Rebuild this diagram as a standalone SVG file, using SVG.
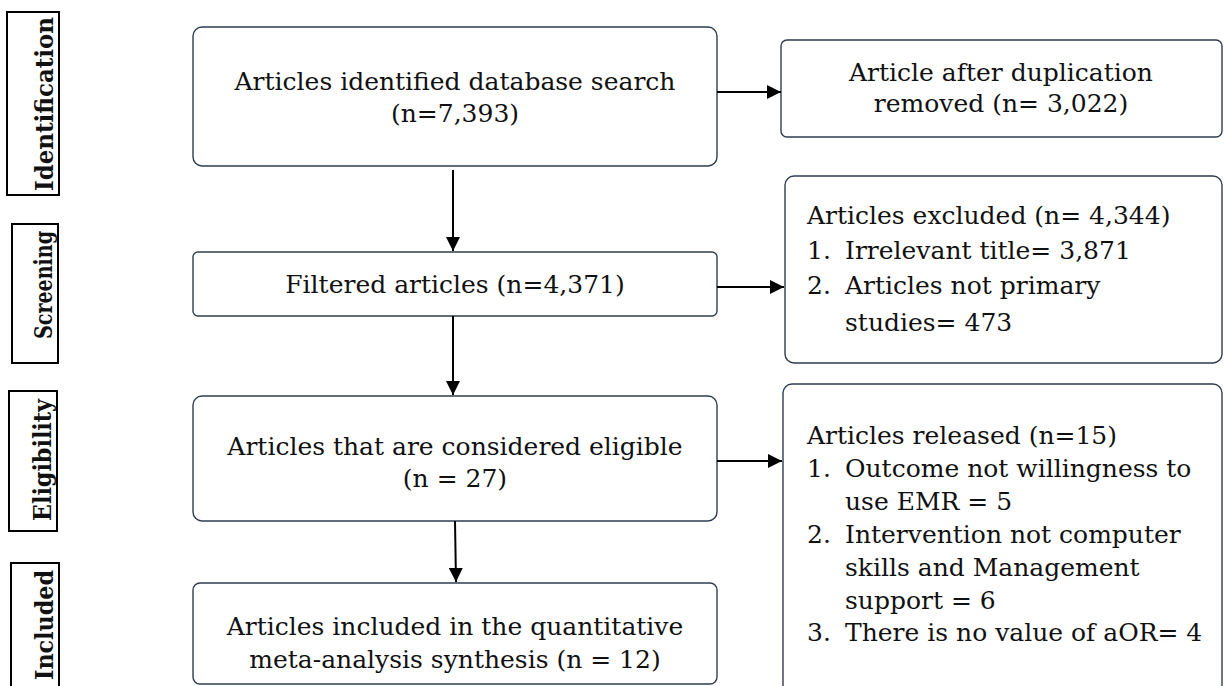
<svg xmlns="http://www.w3.org/2000/svg" width="1224" height="686" viewBox="0 0 1224 686">
<style>
.box{fill:#fff;stroke:#2e3d52;stroke-width:1.4}
.side{fill:#fff;stroke:#000;stroke-width:2}
.t{font-family:"DejaVu Serif","Liberation Serif",serif;font-size:25px;fill:#111}
.c{text-anchor:middle}
.s{font-family:"DejaVu Serif","Liberation Serif",serif;font-size:24px;font-weight:bold;fill:#111;text-anchor:middle}
.ln{stroke:#000;stroke-width:2;fill:none;marker-end:url(#ah)}
</style>
<defs>
<marker id="ah" markerUnits="userSpaceOnUse" markerWidth="14" markerHeight="14" refX="14" refY="7" orient="auto">
<path d="M0,0 L14,7 L0,14 Z" fill="#000"/>
</marker>
</defs>
<rect width="1224" height="686" fill="#fff"/>
<g id="side-identification"><rect class="side" x="7" y="12" width="52" height="183"/><text class="s" transform="translate(53,104) rotate(-90)" textLength="174" lengthAdjust="spacingAndGlyphs">Identification</text></g>
<g id="side-screening"><rect class="side" x="12" y="224" width="46" height="139"/><text class="s" transform="translate(52,285) rotate(-90)" textLength="108" lengthAdjust="spacingAndGlyphs">Screening</text></g>
<g id="side-eligibility"><rect class="side" x="9" y="391" width="48" height="140"/><text class="s" transform="translate(51,460) rotate(-90)" textLength="122" lengthAdjust="spacingAndGlyphs">Eligibility</text></g>
<g id="side-included"><rect class="side" x="11" y="563" width="48" height="130"/><text class="s" transform="translate(53,625) rotate(-90)" textLength="110" lengthAdjust="spacingAndGlyphs">Included</text></g>

<g id="n1"><rect class="box" x="193" y="27" width="524" height="139" rx="9"/><text class="t c" x="455" y="90">Articles identified database search</text><text class="t c" x="455" y="122">(n=7,393)</text></g>
<g id="n2"><rect class="box" x="781" y="40" width="441" height="97" rx="6"/><text class="t c" x="1001" y="81">Article after duplication</text><text class="t c" x="1001" y="112">removed (n= 3,022)</text></g>
<g id="n3"><rect class="box" x="193" y="252" width="524" height="64" rx="5"/><text class="t c" x="455" y="293">Filtered articles (n=4,371)</text></g>
<g id="n4"><rect class="box" x="785" y="176" width="437" height="187" rx="9"/>
<text class="t" x="807" y="224">Articles excluded (n= 4,344)</text>
<text class="t" x="807" y="259">1.</text><text class="t" x="845" y="259">Irrelevant title= 3,871</text>
<text class="t" x="807" y="294">2.</text><text class="t" x="845" y="294">Articles not primary</text>
<text class="t" x="845" y="331">studies= 473</text></g>
<g id="n5"><rect class="box" x="193" y="396" width="524" height="125" rx="9"/><text class="t c" x="455" y="455">Articles that are considered eligible</text><text class="t c" x="455" y="487">(n = 27)</text></g>
<g id="n6"><rect class="box" x="783" y="384" width="439" height="310" rx="9"/>
<text class="t" x="807" y="444">Articles released (n=15)</text>
<text class="t" x="807" y="477">1.</text><text class="t" x="845" y="477">Outcome not willingness to</text>
<text class="t" x="845" y="510">use EMR = 5</text>
<text class="t" x="807" y="543">2.</text><text class="t" x="845" y="543">Intervention not computer</text>
<text class="t" x="845" y="576">skills and Management</text>
<text class="t" x="845" y="609">support = 6</text>
<text class="t" x="807" y="641">3.</text><text class="t" x="845" y="641">There is no value of aOR= 4</text></g>
<g id="n7"><rect class="box" x="193" y="583" width="524" height="101" rx="7"/><text class="t c" x="455" y="635">Articles included in the quantitative</text><text class="t c" x="455" y="668">meta-analysis synthesis (n = 12)</text></g>

<g id="connectors">
<line class="ln" x1="717" y1="92" x2="781" y2="92"/>
<line class="ln" x1="453" y1="170" x2="453" y2="251"/>
<line class="ln" x1="717" y1="287" x2="784" y2="287"/>
<line class="ln" x1="453" y1="316" x2="453" y2="395"/>
<line class="ln" x1="717" y1="461" x2="782" y2="461"/>
<line class="ln" x1="455" y1="521" x2="456" y2="582"/>
</g>
</svg>
